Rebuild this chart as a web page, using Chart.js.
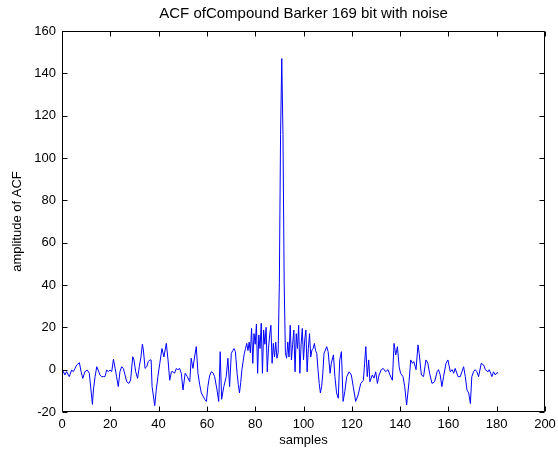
<!DOCTYPE html>
<html><head><meta charset="utf-8">
<script src="https://cdn.jsdelivr.net/npm/chart.js@4/dist/chart.umd.min.js"></script>
<style>html,body{margin:0;padding:0;background:#fff}#wrap{width:558px;height:452px}</style>
</head><body><div id="wrap"><canvas id="c" width="558" height="452"></canvas></div>
<script>
// Sample positions and ACF amplitudes
const sampleX = [
  0.3, 0.6, 1.2, 1.9, 3.0, 4.0, 4.7, 5.4, 6.1, 7.2,
  7.9, 8.6, 9.5, 10.5, 11.3, 12.0, 12.6, 13.0, 13.7, 14.4,
  15.0, 15.7, 16.4, 17.1, 17.8, 18.5, 19.2, 19.9, 20.6, 21.3,
  22.0, 22.6, 23.3, 24.0, 24.7, 25.4, 26.1, 26.8, 27.7, 28.4,
  29.3, 29.8, 30.5, 31.3, 32.0, 32.7, 33.3, 33.7, 34.4, 35.1,
  35.7, 36.4,
  36.9, 37.3, 38.4, 39.0, 39.7, 40.5, 41.4, 42.2, 43.2, 43.9,
  44.6, 45.3, 46.0, 46.6, 47.3, 48.0, 48.7, 49.4, 50.1, 51.0,
  51.9, 52.9, 53.5, 54.2, 54.9, 55.6, 56.3, 57.0, 57.7, 58.4,
  59.1, 59.8, 60.4, 61.1, 61.8, 62.5, 63.2, 64.2, 64.9, 65.5,
  66.1, 67.0, 68.0, 68.7, 69.4, 70.1, 70.7, 71.2, 71.8, 72.5,
  73, 73.5, 74, 74.5, 75, 75.5, 76, 76.5, 77, 77.5,
  78, 78.5, 79, 79.5, 80, 80.5, 81, 81.5, 82, 82.5,
  83, 83.5, 84, 84.5, 85, 85.5, 86, 86.5, 87, 87.5,
  88, 88.5, 89, 89.5, 90, 90.5, 91, 91.5, 92, 92.5,
  93, 93.5, 94, 94.5, 95, 95.5, 96, 96.5, 97, 97.5,
  98, 98.5, 99, 99.5, 100, 100.5, 101, 101.5, 102, 102.5,
  103, 103.5, 104, 104.5, 105, 105.5, 106, 106.5, 107, 107.5,
  108, 108.5,
  109.6, 110.2, 111.0, 111.5, 112.4, 113.0, 113.7, 114.4, 115.0, 115.7,
  116.4, 117.1, 117.9, 118.9, 119.8, 120.6, 121.6, 122.6, 123.7, 124.8,
  125.3, 125.8, 126.4, 127.0, 127.5, 128.5, 129.2, 129.9, 130.6, 131.3,
  132.2, 133.0, 134.0, 135.0, 135.8, 136.8, 137.5, 138.2, 138.9, 139.6,
  140.2, 141.2, 141.9, 142.7, 143.7, 144.4, 145.1, 145.7, 146.6, 147.4,
  147.9, 148.8, 149.7, 150.7, 151.5, 152.2, 153.2, 154.3, 155.3, 155.9,
  156.6, 157.3, 158.0, 159.0, 159.8, 160.8, 161.5, 162.2, 162.8, 164.0,
  164.9, 165.6, 166.3, 167.0, 167.7, 168.4, 169.1, 169.7, 170.4, 171.1,
  171.8, 172.5, 173.6, 174.6, 175.3, 176.4, 176.9, 177.5, 178.0, 178.7,
  179.4, 180.1, 180.6
];
const acfY = [
  -1.7, -0.9, -2.5, -0.9, -3.3, -0.2, -0.9, 0.6, 2.2, 3.3,
  -0.9, -4.1, -0.9, -0.2, -1.7, -9.6, -16.4, -9.6, -3.3, 1.4,
  -0.2, -2.5, -3.3, -3.3, -3.3, -0.2, -0.9, -0.2, -0.9, 4.9,
  0.6, -3.3, -8, -0.9, 1.4, 0.6, -2.5, -5.7, -6.5, -4.9,
  6.1, 4.6, -0.9, -4.1, 1.4, 6.1, 12.1, 9.3, 0.6, 1.4,
  3.8, 4.6,
  4.6, -8, -17, -10, -3.3, 3, 10, 6, 12.4, 4.6,
  -5, -1, -1, -1.7, 0.5, 0, 0.6, -1.7, -9.6, -1.7,
  -3.3, -5.7, 5.4, 0.6, 6, 10.9, -1.7, -7, -11, -12.5,
  -14, -15, -8, -3, -1, -1.5, -3.3, -9.6, -15, 8.5,
  -14, -8, -3.3, 5.4, -8, 7.7, 9, 10, 8.5, -1.7,
  -7, -11, -6, 0, 4, 7.7, 10, 12.4, 9, 13,
  8, 19.5, 3, 17, 12, 21.5, -1.7, 16.4, 10, 21.9,
  -1.7, 18.7, 12, 20, -1, 10, 16.4, 21, 3, 12.4,
  6, 13, 5.4, 8, 41, 111, 147, 111, 41, 8,
  5.4, 13, 6, 21, 4.6, 12, 18.7, -1, 17, 10,
  21, -1.7, 12, 19.5, 4.6, 14, 18.7, -1, 10, 17,
  6, 9.3, 10, 12.4, 9, 7.7, 0, -6.5, -11, -8,
  -1.7, 7.7,
  10.9, 8.5, -1.7, 3, 7, -3.3, -11, -13.5, 4.6, 8.5,
  -15, -10.4, -3.3, -1, -2.5, -8, -15, -12, -6.5, -5,
  3, 10.9, -3.3, 4.6, -5.7, -2.5, -4, -1, -6.5, -2.5,
  0, 0.6, -1, 0, -2.5, -5, 12.4, 7, 10.9, 1.4,
  -1.7, -3.3, -8, -16.7, -5.7, 4.6, 3, 3.8, 0, 11.7,
  7.7, -2.5, -3.3, 4.6, 3, -1.7, -6.5, -5.7, -1, 0,
  -2.5, -8, -3.3, 3, 4.6, -1, 0, -1.7, 0.6, -3.3,
  -3.3, -1, 1.4, -3.3, -9.6, -11, -16, -3.3, -1, 0,
  -1, -3.3, 3, 2.2, 0, -1, 0, -1.7, -3.3, -1,
  -2.5, -1.4, -1.7
];
const xTicks = [0, 20, 40, 60, 80, 100, 120, 140, 160, 180, 200];
const yTicks = [-20, 0, 20, 40, 60, 80, 100, 120, 140, 160];
const titleText = 'ACF ofCompound Barker 169 bit with noise';
const xLabel = 'samples';
const yLabel = 'amplitude of ACF';

const FONT = "'Liberation Sans', Arial, Helvetica, sans-serif";

const boxPlugin = {
  id: 'box',
  afterDatasetsDraw(chart) {
    const {ctx, chartArea: a, scales: {x, y}} = chart;
    const L = Math.round(a.left) + 0.5, R = Math.round(a.right) - 0.5;
    const T = Math.round(a.top) + 0.5, B = Math.round(a.bottom) - 0.5;
    const tl = 5;
    ctx.save();
    ctx.strokeStyle = '#000';
    ctx.lineWidth = 1;
    ctx.beginPath();
    ctx.rect(L, T, R - L, B - T);
    for (const v of xTicks) {
      const px = Math.round(x.getPixelForValue(v)) + 0.5;
      ctx.moveTo(px, B); ctx.lineTo(px, B - tl);
      ctx.moveTo(px, T); ctx.lineTo(px, T + tl);
    }
    for (const v of yTicks) {
      const py = Math.round(y.getPixelForValue(v)) + 0.5;
      ctx.moveTo(L, py); ctx.lineTo(L + tl, py);
      ctx.moveTo(R, py); ctx.lineTo(R - tl, py);
    }
    ctx.stroke();
    ctx.restore();
  }
};

new Chart(document.getElementById('c'), {
  type: 'line',
  data: {
    datasets: [{
      data: sampleX.map((s, i) => ({x: s, y: acfY[i]})),
      borderColor: '#0000ff',
      borderWidth: 1,
      pointRadius: 0,
      tension: 0,
      fill: false
    }]
  },
  options: {
    responsive: false,
    animation: false,
    devicePixelRatio: 1,
    layout: {padding: {left: 0, right: 13, top: 0, bottom: 0}},
    plugins: {
      legend: {display: false},
      tooltip: {enabled: false},
      title: {
        display: true, text: titleText, color: '#000', fullSize: false,
        font: {family: FONT, size: 15, weight: 'normal'},
        padding: {top: 5, bottom: 8}
      }
    },
    scales: {
      x: {
        type: 'linear', min: 0, max: 200,
        afterBuildTicks: s => { s.ticks = xTicks.map(v => ({value: v})); },
        grid: {display: false, drawTicks: false},
        border: {display: false},
        ticks: {color: '#000', font: {family: FONT, size: 13}, padding: 5, maxRotation: 0, autoSkip: false},
        title: {display: true, text: xLabel, color: '#000', font: {family: FONT, size: 13}, padding: {top: 0, bottom: 4}},
        afterFit: s => { s.height = 40; s.paddingLeft = 0; s.paddingRight = 0; }
      },
      y: {
        type: 'linear', min: -20, max: 160,
        afterBuildTicks: s => { s.ticks = yTicks.map(v => ({value: v})); },
        grid: {display: false, drawTicks: false},
        border: {display: false},
        ticks: {color: '#000', font: {family: FONT, size: 13}, padding: 6, autoSkip: false},
        title: {display: true, text: yLabel, color: '#000', font: {family: FONT, size: 13}, padding: {top: 10, bottom: 0}},
        afterFit: s => { s.width = 62; s.paddingTop = 0; s.paddingBottom = 0; }
      }
    }
  },
  plugins: [boxPlugin]
});
</script>
</body></html>
